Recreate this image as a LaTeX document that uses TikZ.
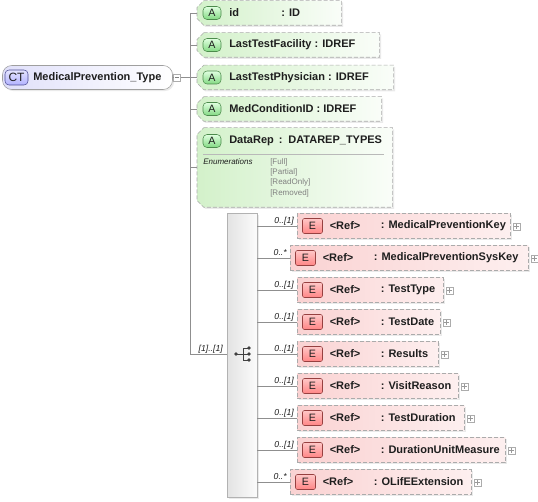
\documentclass[tikz,border=0pt]{standalone}
\usepackage{fontspec}
\setmainfont{Liberation Sans}
\usetikzlibrary{shadows}

\definecolor{attrfill}{HTML}{D3F1CA}
\definecolor{elemfill}{HTML}{FAD2D2}
\definecolor{rootfill}{HTML}{E0E0FA}
\definecolor{dashgray}{HTML}{ABABAB}
\definecolor{treegray}{HTML}{8F8F8F}
\definecolor{txt}{HTML}{1E1E1E}

\tikzset{
  boxshadow/.style={drop shadow={shadow xshift=1.2pt, shadow yshift=-1.2pt, fill=black!16}},
  attrbox/.style={rectangle, inner sep=0pt, minimum height=18pt, anchor=west},
  attrshape/.style={draw=dashgray, dash pattern=on 3pt off 1.5pt,
    left color=attrfill, right color=attrfill!12, boxshadow},
  elembox/.style={rectangle, draw=dashgray, dash pattern=on 3pt off 1.5pt,
    left color=elemfill, right color=elemfill!35, boxshadow, inner sep=0pt,
    minimum height=18.75pt, anchor=west},
  rootbox/.style={rectangle, rounded corners=7pt, draw=gray!75, left color=rootfill,
    right color=white, boxshadow, inner sep=0pt, minimum width=127.5pt, minimum height=18pt},
  badge/.style={rectangle, rounded corners=1.5pt, inner sep=0pt,
    font=\fontsize{8}{9}\selectfont\mdseries},
  abadge/.style={badge, rounded corners=3pt, draw=green!35!black!70, top color=green!12,
    bottom color=green!40!white!85!black, minimum width=13.5pt, minimum height=9.75pt},
  ebadge/.style={badge, draw=red!45!black!75, top color=red!22, bottom color=red!48,
    minimum width=15pt, minimum height=11.25pt},
  ctbadge/.style={badge, rounded corners=3pt, draw=blue!40!black!70, top color=blue!10,
    bottom color=blue!30, minimum width=17.25pt, minimum height=11.25pt,
    font=\fontsize{9}{10}\selectfont\mdseries},
  lbl/.style={inner sep=0pt, anchor=west},
  mult/.style={inner sep=0pt, font=\fontsize{6.5}{7}\selectfont\itshape\mdseries},
  enumlbl/.style={inner sep=0pt, anchor=west, font=\fontsize{6}{7}\selectfont\mdseries},
  togglebox/.style={rectangle, draw=gray!65, fill=white, inner sep=0pt, minimum size=5.5pt},
  treeline/.style={draw=treegray, line width=0.5pt},
}

\begin{document}
\begin{tikzpicture}[x=0.75pt, y=-0.75pt, font=\fontsize{8.25}{10}\selectfont\bfseries, text=txt]
  \useasboundingbox (0,0) rectangle (538,502);

  % complex type
  \node[rootbox] (root) at (87.5,77.5) {};
  \node[ctbadge] (ct) at (16.5,77.5) {CT};
  \node[lbl] (rootname) at (33,77.5) {MedicalPrevention\_Type};
  \node[togglebox, path picture={\draw[gray] ([xshift=-1.6pt]path picture bounding box.center)
    -- ([xshift=1.6pt]path picture bounding box.center);}] (minus) at (177,77.5) {};

  % tree
  \coordinate (trunktop) at (190,13);
  \coordinate (trunkbot) at (190,354);
  \draw[treeline] (root.east) -- (minus.west);
  \draw[treeline] (minus.east) -- (minus.east -| trunktop);
  \draw[treeline] (trunktop) -- (trunkbot);

  % attributes
  \node[attrbox, minimum width=108pt] (aid) at (197,13) {};
  \node[attrbox, minimum width=136.5pt] (altf) at (197,45) {};
  \node[attrbox, minimum width=147pt] (altp) at (197,77.5) {};
  \node[attrbox, minimum width=138pt] (amci) at (197,109) {};
  \node[attrbox, minimum width=146.25pt, minimum height=59.25pt] (adr) at (197,167.5) {};

  \foreach \a in {aid, altf, altp, amci, adr} {
    \path[attrshape] ([xshift=5pt]\a.north west) -- (\a.north east) -- (\a.south east)
      -- ([xshift=5pt]\a.south west) -- ([yshift=5pt]\a.south west)
      -- ([yshift=-5pt]\a.north west) -- cycle;
    \draw[treeline] (trunktop |- \a.west) -- (\a.west);
  }

  \node[abadge] (bid) at (212,13) {A};
  \node[abadge] (bltf) at (212,45) {A};
  \node[abadge] (bltp) at (212,77.5) {A};
  \node[abadge] (bmci) at (212,109) {A};
  \node[abadge] (bdr) at (212,141) {A};

  \node[lbl] (tid) at (229,13) {\makebox[39pt][l]{id}: ID};
  \node[lbl] (tltf) at (229,45) {LastTestFacility : IDREF};
  \node[lbl] (tltp) at (229,77.5) {LastTestPhysician : IDREF};
  \node[lbl] (tmci) at (229,109) {MedConditionID : IDREF};
  \node[lbl] (tdr) at (229,141) {DataRep \,: \,DATAREP\_TYPES};

  \draw[gray!55] (203,154) -- (384,154);
  \node[enumlbl, font=\fontsize{6}{7}\selectfont\itshape\mdseries] (enum) at (203,162) {Enumerations};
  \node[enumlbl, text=gray] (vfull) at (270,162) {[Full]};
  \node[enumlbl, text=gray] (vpart) at (270,172) {[Partial]};
  \node[enumlbl, text=gray] (vro) at (270,182.5) {[ReadOnly]};
  \node[enumlbl, text=gray] (vrem) at (270,193) {[Removed]};

  % sequence
  \node[rectangle, draw=gray!60, left color=gray!22, right color=gray!3, boxshadow,
    inner sep=0pt, minimum width=22.5pt, minimum height=213pt] (seq) at (242,355) {};
  \draw[treeline] (trunkbot) -- (seq.west |- trunkbot);
  \node[mult, anchor=base east] (mseq) at (223,351.5) {[1]..[1]};
  \fill[black!75] (236,354) circle (1.8);
  \draw[black!75, line width=0.75pt] (236,354) -- (243,354) (243,348) -- (243,360)
    (243,348) -- (249,348) (243,360) -- (249,360) (243,354) -- (249,354);
  \foreach \dy in {348,354,360}
    \fill[black!75] (249,\dy) circle (1.8);

  % elements
  \foreach \cy/\lx/\rx/\nm/\mu/\id in {
      226/297/510/MedicalPreventionKey/{0..[1]}/mpk,
      258/290/528/MedicalPreventionSysKey/{0..*}/mpsk,
      290/297/443/TestType/{0..[1]}/tt,
      322/297/440/TestDate/{0..[1]}/td,
      354/297/438/Results/{0..[1]}/res,
      386/297/458/VisitReason/{0..[1]}/vr,
      418/297/464/TestDuration/{0..[1]}/tdur,
      450/297/505/DurationUnitMeasure/{0..[1]}/dum,
      482/290/471/OLifEExtension/{0..*}/olx} {
    \pgfmathsetmacro\w{(\rx-\lx)*0.75}
    \node[elembox, minimum width=\w pt] (e\id) at (\lx,\cy) {};
    \node[ebadge] (eb\id) at (\lx+15.5,\cy) {E};
    \node[lbl] (er\id) at (\lx+32.5,\cy) {<Ref>};
    \node[lbl] (en\id) at (\lx+83.5,\cy) {: \nm};
    \node[togglebox, path picture={\draw[gray!80] ([xshift=-1.6pt]path picture bounding box.center)
      -- ([xshift=1.6pt]path picture bounding box.center)
      ([yshift=-1.6pt]path picture bounding box.center)
      -- ([yshift=1.6pt]path picture bounding box.center);}] (p\id) at (\rx+6.5,\cy+0.5) {};
    \draw[treeline] (seq.east |- e\id.west) -- (e\id.west);
    \node[mult, anchor=base east] (m\id) at (\lx-3,\cy-2.5) {\mu};
  }
\end{tikzpicture}
\end{document}
